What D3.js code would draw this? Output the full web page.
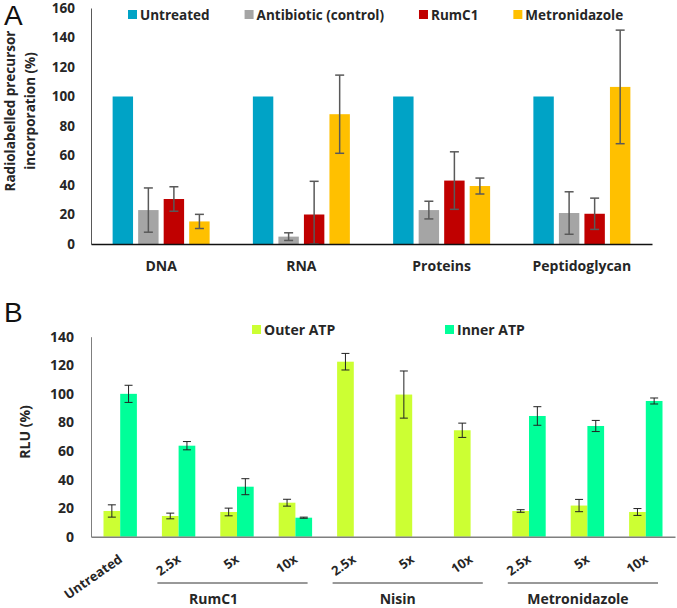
<!DOCTYPE html>
<html>
<head>
<meta charset="utf-8">
<script src="https://cdn.jsdelivr.net/npm/d3@7"></script>
<style>
  body { margin: 0; background: #fff; }
  text { font-family: "Open Sans", sans-serif; }
</style>
</head>
<body>
<div id="my_dataviz"></div>
<script>

// ---- panel A data
var categoriesA = ["DNA", "RNA", "Proteins", "Peptidoglycan"]
var seriesA = ["Untreated", "Antibiotic (control)", "RumC1", "Metronidazole"]
var untreatedA = [100, 100, 100, 100]
var untreatedErrA = [0, 0, 0, 0]
var antibioticA = [23, 5, 23, 21]
var antibioticErrA = [15, 2.6, 6, 14.4]
var rumc1A = [30.5, 20, 43, 20.5]
var rumc1ErrA = [8.3, 22.5, 19.5, 10.6]
var metroA = [15.3, 88, 39.3, 106.5]
var metroErrA = [4.8, 26.5, 5.4, 38.5]
var ticksA = [0, 20, 40, 60, 80, 100, 120, 140, 160]

// ---- panel B data
var categoriesB = ["Untreated", "RumC1 2.5x", "RumC1 5x", "RumC1 10x", "Nisin 2.5x", "Nisin 5x", "Nisin 10x",
  "Metronidazole 2.5x", "Metronidazole 5x", "Metronidazole 10x"]
var tickLabelsB = ["Untreated", "2.5x", "5x", "10x", "2.5x", "5x", "10x", "2.5x", "5x", "10x"]
var seriesB = ["Outer ATP", "Inner ATP"]
var outerB = [18, 14.5, 17.3, 23.8, 122.5, 99.5, 74.5, 18, 21.8, 17.3]
var outerErrB = [4.3, 2, 2.7, 2.4, 5.8, 16.5, 5, 0.9, 4.3, 2.4]
var innerB = [100, 63.7, 35, 13.3, 0, 0, 0, 84.5, 77.5, 95]
var innerErrB = [6, 2.9, 5.6, 0.4, 0, 0, 0, 6.5, 3.9, 2.1]
var groupsB = [
  { name: "RumC1", first: "RumC1 2.5x", last: "RumC1 10x" },
  { name: "Nisin", first: "Nisin 2.5x", last: "Nisin 10x" },
  { name: "Metronidazole", first: "Metronidazole 2.5x", last: "Metronidazole 10x" }
]
var ticksB = [0, 20, 40, 60, 80, 100, 120, 140]

var colorA = d3.scaleOrdinal().domain(seriesA).range(["#00A3C6", "#A5A5A5", "#C00000", "#FFC000"])
var colorB = d3.scaleOrdinal().domain(seriesB).range(["#CCFF33", "#00FF99"])

var svg = d3.select("#my_dataviz")
  .append("svg")
  .attr("width", 677)
  .attr("height", 608)

// panel letters
svg.append("text").attr("x", 4).attr("y", 25).text("A")
  .style("font-family", "Liberation Sans, Arial, sans-serif").style("font-size", "28px").style("fill", "#111")
svg.append("text").attr("x", 4).attr("y", 322).text("B")
  .style("font-family", "Liberation Sans, Arial, sans-serif").style("font-size", "28px").style("fill", "#111")

// ================= PANEL A =================
var rowsA = categoriesA.map(function (c, i) {
  return {
    cat: c,
    vals: [
      { s: seriesA[0], v: untreatedA[i], e: untreatedErrA[i] },
      { s: seriesA[1], v: antibioticA[i], e: antibioticErrA[i] },
      { s: seriesA[2], v: rumc1A[i], e: rumc1ErrA[i] },
      { s: seriesA[3], v: metroA[i], e: metroErrA[i] }
    ]
  }
})

var yA = d3.scaleLinear().domain([0, 160]).range([244, 8])
var x0A = d3.scaleBand().domain(categoriesA).range([91, 652])
var groupW = 97
var x1A = d3.scaleBand().domain(seriesA)
  .range([(x0A.bandwidth() - groupW) / 2, (x0A.bandwidth() + groupW) / 2])
  .paddingInner(0.2)

// y axis
svg.append("g")
  .attr("transform", "translate(91,0)")
  .call(d3.axisLeft(yA).tickValues(ticksA).tickSize(0).tickPadding(16).tickSizeOuter(0))
  .call(function (g) {
    g.select(".domain").attr("stroke", "#595959").attr("stroke-width", 1)
    g.selectAll("text").style("font-size", "13.5px").style("font-weight", "700").style("fill", "#262626")
      .style("font-family", "Open Sans, sans-serif")
  })

// bars
var gA = svg.selectAll("myGroupA").data(rowsA).enter().append("g")
  .attr("transform", function (d) { return "translate(" + x0A(d.cat) + ",0)" })

gA.selectAll("rect").data(function (d) { return d.vals }).enter().append("rect")
  .attr("x", function (d) { return x1A(d.s) })
  .attr("width", x1A.bandwidth())
  .attr("y", function (d) { return yA(d.v) })
  .attr("height", function (d) { return yA(0) - yA(d.v) })
  .style("fill", function (d) { return colorA(d.s) })

// error bars
var errA = gA.selectAll("g.err").data(function (d) { return d.vals.filter(function (v) { return v.e > 0 }) })
  .enter().append("g").attr("class", "err")
  .attr("stroke", "#595959").attr("stroke-width", 1.5)
errA.append("line")
  .attr("x1", function (d) { return x1A(d.s) + x1A.bandwidth() / 2 })
  .attr("x2", function (d) { return x1A(d.s) + x1A.bandwidth() / 2 })
  .attr("y1", function (d) { return yA(d.v + d.e) })
  .attr("y2", function (d) { return yA(Math.max(0, d.v - d.e)) })
errA.append("line")
  .attr("x1", function (d) { return x1A(d.s) + x1A.bandwidth() / 2 - 4.5 })
  .attr("x2", function (d) { return x1A(d.s) + x1A.bandwidth() / 2 + 4.5 })
  .attr("y1", function (d) { return yA(d.v + d.e) })
  .attr("y2", function (d) { return yA(d.v + d.e) })
errA.append("line")
  .attr("x1", function (d) { return x1A(d.s) + x1A.bandwidth() / 2 - 4.5 })
  .attr("x2", function (d) { return x1A(d.s) + x1A.bandwidth() / 2 + 4.5 })
  .attr("y1", function (d) { return yA(Math.max(0, d.v - d.e)) })
  .attr("y2", function (d) { return yA(Math.max(0, d.v - d.e)) })

// x axis
svg.append("g")
  .attr("transform", "translate(0,244)")
  .call(d3.axisBottom(x0A).tickSize(0).tickPadding(17).tickSizeOuter(0))
  .call(function (g) {
    g.select(".domain").attr("stroke", "#111").attr("stroke-width", 1.5)
    g.selectAll("text").style("font-size", "14px").style("font-weight", "700").style("fill", "#262626")
      .style("font-family", "Open Sans, sans-serif")
  })

// y title
var yTitleA = svg.append("text")
  .attr("transform", "translate(0,111) rotate(-90)")
  .style("text-anchor", "middle").style("font-size", "13.5px").style("font-weight", "700").style("fill", "#262626")
yTitleA.append("tspan").attr("x", 0).attr("y", 15).text("Radiolabelled precursor")
yTitleA.append("tspan").attr("x", 0).attr("y", 35).text("incorporation (%)")

// legend A (flows left to right)
var legX = 128
seriesA.forEach(function (s) {
  svg.append("rect").attr("x", legX).attr("y", 10).attr("width", 9).attr("height", 9).style("fill", colorA(s))
  var t = svg.append("text").attr("x", legX + 12).attr("y", 20).text(s)
    .style("font-size", "13.5px").style("font-weight", "700").style("fill", "#262626")
  legX += 12 + t.node().getComputedTextLength() + 35
})

// ================= PANEL B =================
var rowsB = categoriesB.map(function (c, i) {
  return {
    cat: c,
    vals: [
      { s: seriesB[0], v: outerB[i], e: outerErrB[i] },
      { s: seriesB[1], v: innerB[i], e: innerErrB[i] }
    ]
  }
})

var yB = d3.scaleLinear().domain([0, 140]).range([536.7, 336.7])
var x0B = d3.scaleBand().domain(categoriesB).range([91, 675])
var pairW = 33.4
var x1B = d3.scaleBand().domain(seriesB)
  .range([(x0B.bandwidth() - pairW) / 2, (x0B.bandwidth() + pairW) / 2])

svg.append("g")
  .attr("transform", "translate(91,0)")
  .call(d3.axisLeft(yB).tickValues(ticksB).tickSize(0).tickPadding(17).tickSizeOuter(0))
  .call(function (g) {
    g.select(".domain").attr("stroke", "#7f7f7f").attr("stroke-width", 1)
    g.selectAll("text").style("font-size", "14px").style("font-weight", "700").style("fill", "#262626")
      .style("font-family", "Open Sans, sans-serif")
  })

var gB = svg.selectAll("myGroupB").data(rowsB).enter().append("g")
  .attr("transform", function (d) { return "translate(" + x0B(d.cat) + ",0)" })

gB.selectAll("rect").data(function (d) { return d.vals.filter(function (v) { return v.v > 0 }) }).enter().append("rect")
  .attr("x", function (d) { return x1B(d.s) })
  .attr("width", x1B.bandwidth())
  .attr("y", function (d) { return yB(d.v) })
  .attr("height", function (d) { return yB(0) - yB(d.v) })
  .style("fill", function (d) { return colorB(d.s) })

var errB = gB.selectAll("g.err").data(function (d) { return d.vals.filter(function (v) { return v.e > 0 }) })
  .enter().append("g").attr("class", "err")
  .attr("stroke", "#222").attr("stroke-width", 1)
errB.append("line")
  .attr("x1", function (d) { return x1B(d.s) + x1B.bandwidth() / 2 })
  .attr("x2", function (d) { return x1B(d.s) + x1B.bandwidth() / 2 })
  .attr("y1", function (d) { return yB(d.v + d.e) })
  .attr("y2", function (d) { return yB(d.v - d.e) })
errB.append("line")
  .attr("x1", function (d) { return x1B(d.s) + x1B.bandwidth() / 2 - 4 })
  .attr("x2", function (d) { return x1B(d.s) + x1B.bandwidth() / 2 + 4 })
  .attr("y1", function (d) { return yB(d.v + d.e) })
  .attr("y2", function (d) { return yB(d.v + d.e) })
errB.append("line")
  .attr("x1", function (d) { return x1B(d.s) + x1B.bandwidth() / 2 - 4 })
  .attr("x2", function (d) { return x1B(d.s) + x1B.bandwidth() / 2 + 4 })
  .attr("y1", function (d) { return yB(d.v - d.e) })
  .attr("y2", function (d) { return yB(d.v - d.e) })

// x axis with rotated labels
svg.append("g")
  .attr("transform", "translate(0,536.7)")
  .call(d3.axisBottom(x0B).tickSize(0).tickSizeOuter(0)
    .tickFormat(function (d, i) { return tickLabelsB[i] }))
  .call(function (g) {
    g.select(".domain").attr("stroke", "#7f7f7f").attr("stroke-width", 1.5)
    g.selectAll("text")
      .attr("y", 0).attr("dy", 0)
      .attr("transform", "translate(3,24.5) rotate(-35)")
      .style("text-anchor", "end")
      .style("font-size", "13px").style("font-weight", "700").style("fill", "#262626")
      .style("font-family", "Open Sans, sans-serif")
  })

// group underlines and names
var groupLabelX = { "RumC1": -19, "Nisin": -10, "Metronidazole": -5 }
groupsB.forEach(function (gr) {
  var x1 = x0B(gr.first) + 8
  var x2 = x0B(gr.last) + x0B.bandwidth() - 17
  svg.append("line").attr("x1", x1).attr("x2", x2).attr("y1", 583).attr("y2", 583)
    .attr("stroke", "#333").attr("stroke-width", 1)
  svg.append("text").attr("x", (x1 + x2) / 2 + groupLabelX[gr.name]).attr("y", 604)
    .style("text-anchor", "middle").text(gr.name)
    .style("font-size", "14px").style("font-weight", "700").style("fill", "#262626")
})

// y title B
svg.append("text")
  .attr("transform", "translate(30,432) rotate(-90)")
  .style("text-anchor", "middle").text("RLU (%)")
  .style("font-size", "14px").style("font-weight", "700").style("fill", "#262626")

// legend B
var legBx = [252, 445]
seriesB.forEach(function (s, i) {
  svg.append("rect").attr("x", legBx[i]).attr("y", 325).attr("width", 9).attr("height", 9).style("fill", colorB(s))
  svg.append("text").attr("x", legBx[i] + 12).attr("y", 335).text(s)
    .style("font-size", "14px").style("font-weight", "700").style("fill", "#262626")
})

</script>
</body>
</html>
